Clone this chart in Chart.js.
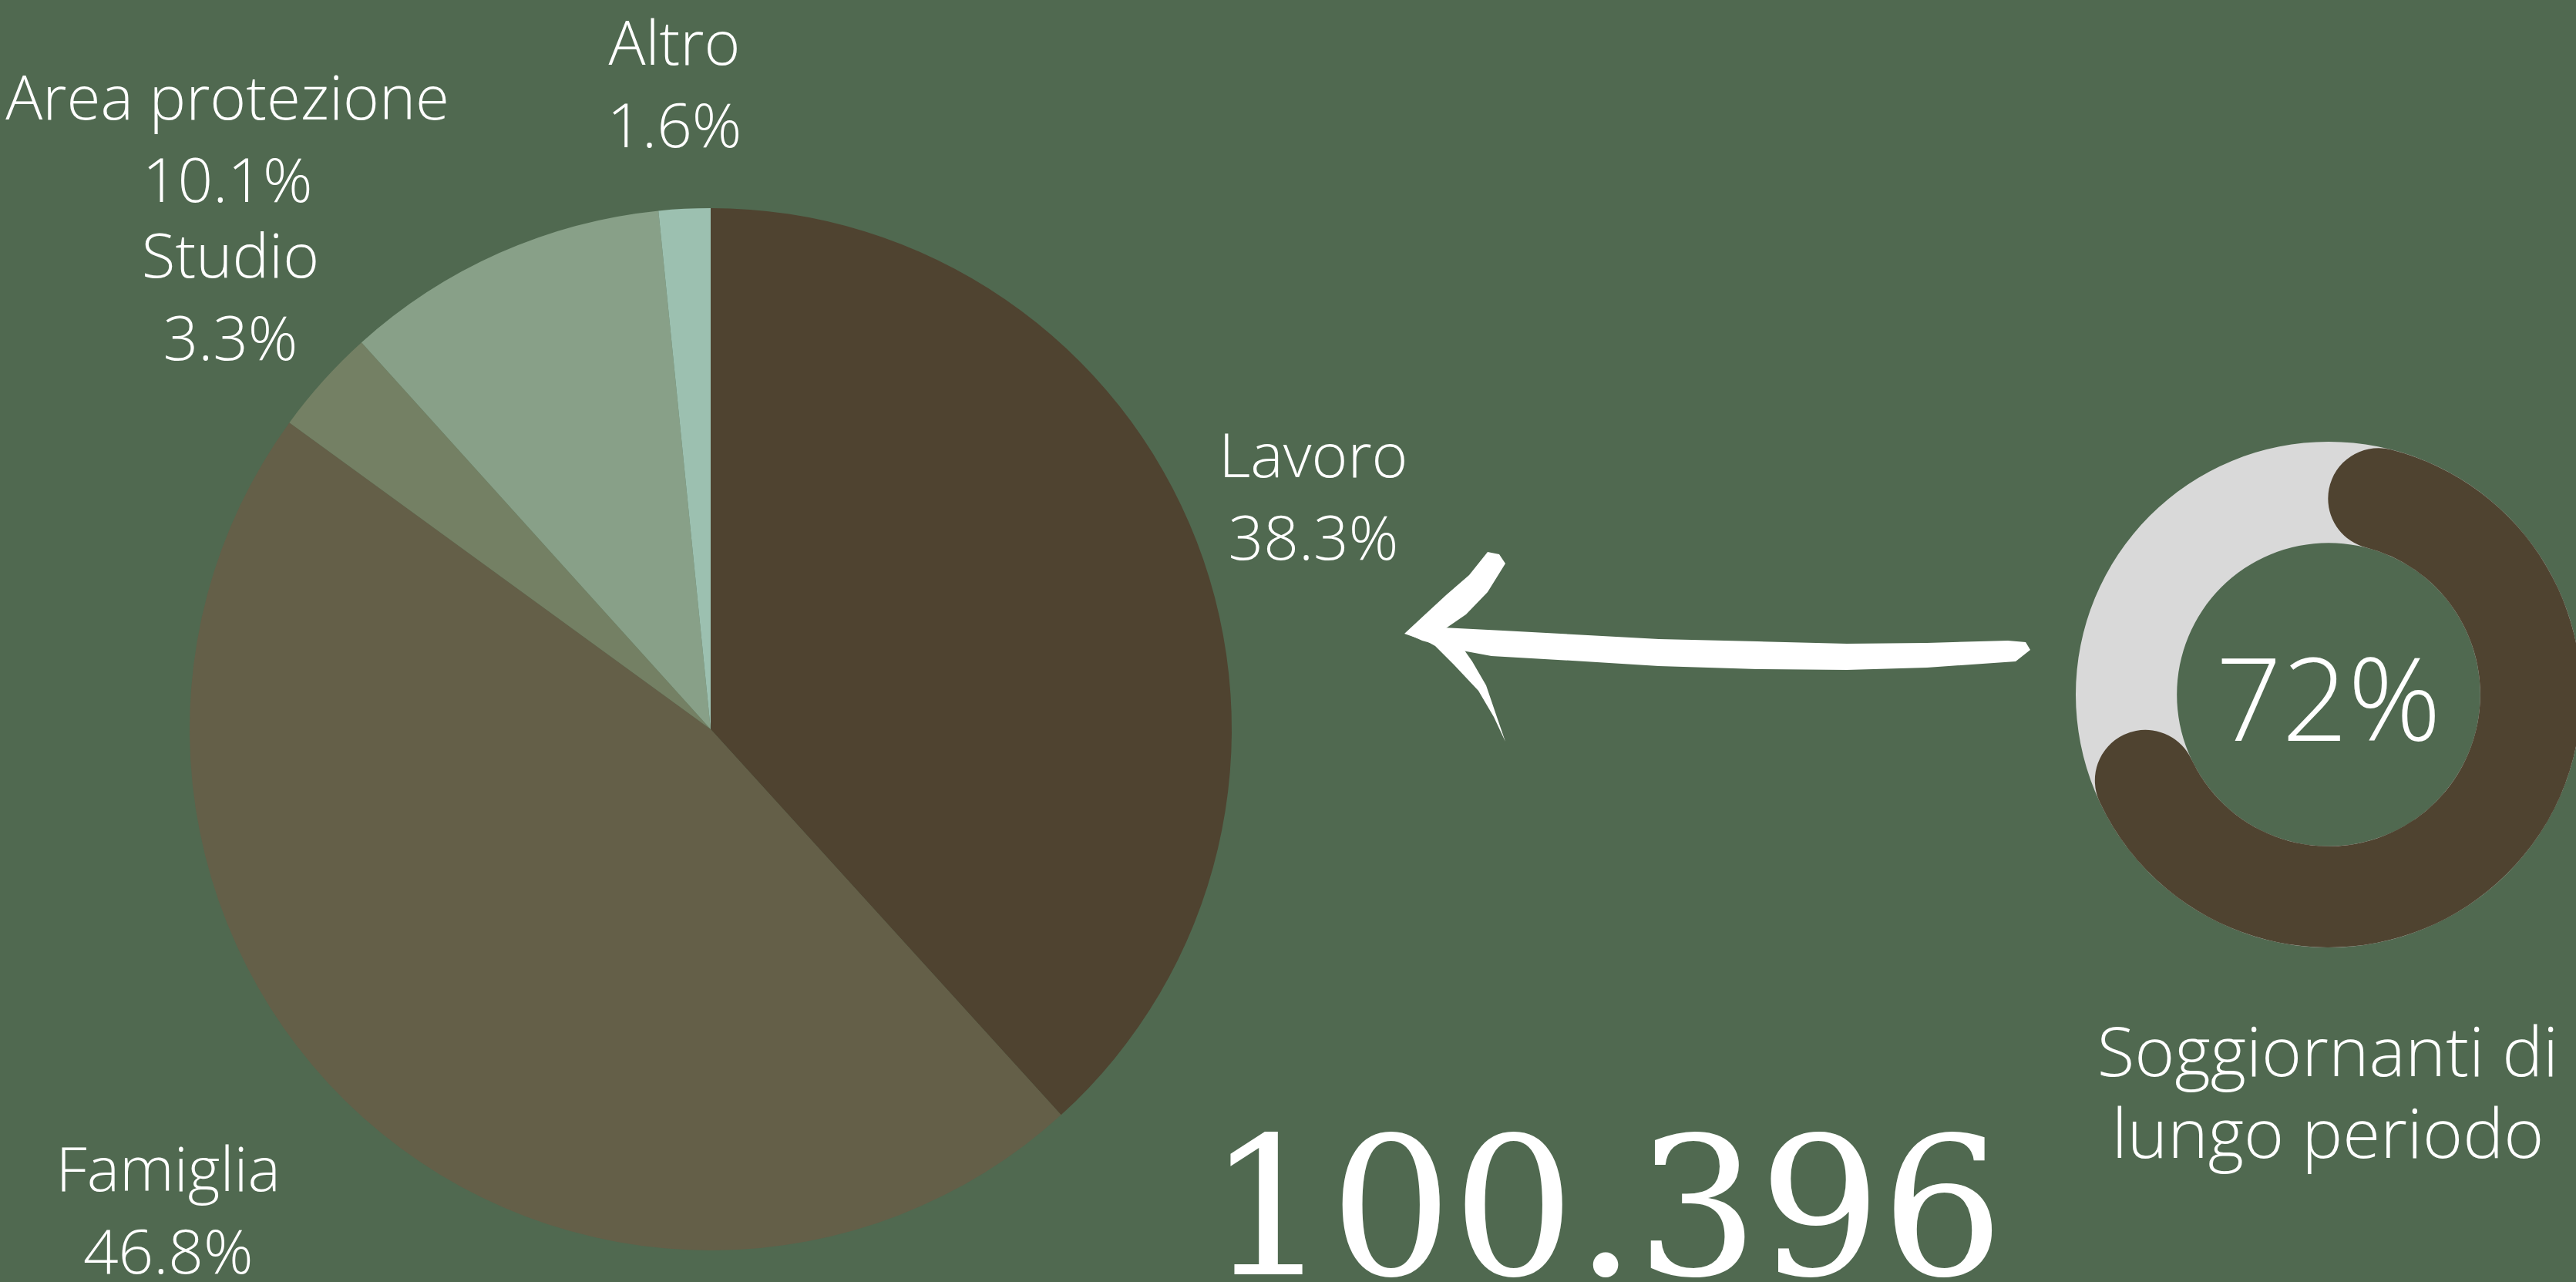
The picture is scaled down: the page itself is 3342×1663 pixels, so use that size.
<!DOCTYPE html>
<html lang="it">
<head>
<meta charset="utf-8">
<title>Permessi di soggiorno per motivo</title>
<script src="https://cdn.jsdelivr.net/npm/chart.js@4.4.1/dist/chart.umd.min.js"></script>
<style>
    html, body { margin: 0; padding: 0; }
    body {
        width: 3342px;
        height: 1663px;
        background: #506950;
        overflow: hidden;
        position: relative;
        font-family: "Open Sans", sans-serif;
        color: #ffffff;
    }
    #pieWrap { position: absolute; left: 0; top: 0; width: 3342px; height: 1663px; }
    #ringWrap { position: absolute; left: 2693px; top: 573px; width: 656px; height: 656px; }
    #arrow { position: absolute; left: 0; top: 0; width: 3342px; height: 1663px; pointer-events: none; }
    .subtitle {
        position: absolute;
        left: 2520px;
        top: 1309px;
        width: 1000px;
        text-align: center;
        font-weight: 300;
        font-size: 89px;
        line-height: 106px;
        white-space: nowrap;
    }
    .total {
        position: absolute;
        left: 1283px;
        top: 1442px;
        width: 1600px;
        text-align: center;
        font-family: "DejaVu Serif", serif;
        font-size: 250px;
        line-height: 250px;
        white-space: nowrap;
    }
</style>
</head>
<body>

<div id="pieWrap"><canvas id="reasonPie"></canvas></div>
<div id="ringWrap"><canvas id="longTermRing"></canvas></div>

<svg id="arrow" viewBox="0 0 3342 1663">
    <g fill="#ffffff">
        <!-- shaft -->
        <polygon points="1825,822 1852,813 1950,818 2060,824 2152,829 2280,832 2396,835 2500,834 2605,831 2628,833 2634,843 2615,858 2500,866 2396,869 2280,868 2152,864 2040,857 1935,851 1881,841 1845,831"/>
        <!-- upper barb -->
        <polygon points="1822,822 1850,796 1876,772 1906,746 1930,716 1945,719 1953,731 1930,768 1902,797 1870,819 1842,829"/>
        <!-- lower barb -->
        <polygon points="1835,823 1862,838 1886,862 1918,896 1938,930 1953,962 1943,933 1928,889 1910,858 1896,838"/>
    </g>
</svg>

<div class="subtitle">Soggiornanti di<br>lungo periodo</div>
<div class="total">100.396</div>

<script>
    // Motivo del permesso di soggiorno (quote %)
    const categories = ["Lavoro", "Famiglia", "Studio", "Area protezione", "Altro"];
    const shares = [38.3, 46.8, 3.3, 10.1, 1.6];

    // Quota soggiornanti di lungo periodo (%)
    const longTermShare = 72;

    const sliceColors = ["#4f4330", "#645f48", "#748064", "#88a088", "#9cc0b0"];
    const ringColor = "#4f4330";
    const trackColor = "#d9d9d9";

    // label placement: distance from centre (x radius) and sideways nudges
    const LABEL_DIST = 1.24;
    const labelShiftX = [0, -144, 0, -287, -5];

    // Draws the two-line labels around the pie
    const sliceLabels = {
        id: "sliceLabels",
        afterDatasetsDraw(chart) {
            const ctx = chart.ctx;
            const meta = chart.getDatasetMeta(0);
            ctx.save();
            ctx.fillStyle = "#ffffff";
            ctx.font = '300 80px "Open Sans"';
            ctx.textAlign = "center";
            ctx.textBaseline = "alphabetic";
            meta.data.forEach((arc, i) => {
                const p = arc.getProps(["x", "y", "startAngle", "endAngle", "outerRadius"], true);
                const mid = (p.startAngle + p.endAngle) / 2;
                const d = p.outerRadius * LABEL_DIST;
                const px = p.x + Math.cos(mid) * d + labelShiftX[i];
                const py = p.y + Math.sin(mid) * d;
                ctx.fillText(categories[i], px, py - 25);
                ctx.fillText(shares[i].toFixed(1) + "%", px, py + 82);
            });
            ctx.restore();
        },
    };

    // Gray full ring behind the rounded progress arc, plus the centre value
    const ringTrack = {
        id: "ringTrack",
        beforeDatasetsDraw(chart) {
            const arc = chart.getDatasetMeta(0).data[0];
            if (!arc) return;
            const p = arc.getProps(["x", "y", "innerRadius", "outerRadius"], true);
            const ctx = chart.ctx;
            ctx.save();
            ctx.beginPath();
            ctx.arc(p.x, p.y, p.outerRadius, 0, Math.PI * 2);
            ctx.arc(p.x, p.y, p.innerRadius, 0, Math.PI * 2, true);
            ctx.fillStyle = trackColor;
            ctx.fill();
            ctx.restore();
        },
        afterDatasetsDraw(chart) {
            const arc = chart.getDatasetMeta(0).data[0];
            if (!arc) return;
            const p = arc.getProps(["x", "y"], true);
            const ctx = chart.ctx;
            ctx.save();
            ctx.fillStyle = "#ffffff";
            ctx.font = '300 150px "Open Sans"';
            ctx.textAlign = "center";
            ctx.textBaseline = "alphabetic";
            ctx.fillText(longTermShare + "%", p.x, p.y + 60);
            ctx.restore();
        },
    };

    new Chart(document.getElementById("reasonPie"), {
        type: "pie",
        data: {
            labels: categories,
            datasets: [
                {
                    data: shares,
                    backgroundColor: sliceColors,
                    borderWidth: 0,
                },
            ],
        },
        options: {
            responsive: true,
            maintainAspectRatio: false,
            animation: false,
            events: [],
            layout: { padding: { left: 246, top: 270, right: 1744, bottom: 41 } },
            plugins: {
                legend: { display: false },
                tooltip: { enabled: false },
            },
        },
        plugins: [sliceLabels],
    });

    new Chart(document.getElementById("longTermRing"), {
        type: "doughnut",
        data: {
            labels: ["Lungo periodo", "Altri"],
            datasets: [
                {
                    data: [longTermShare, 100 - longTermShare],
                    backgroundColor: [ringColor, "rgba(0,0,0,0)"],
                    borderWidth: 0,
                    borderRadius: 400,
                },
            ],
        },
        options: {
            responsive: true,
            maintainAspectRatio: false,
            animation: false,
            events: [],
            cutout: "60%",
            plugins: {
                legend: { display: false },
                tooltip: { enabled: false },
            },
        },
        plugins: [ringTrack],
    });
</script>
</body>
</html>
